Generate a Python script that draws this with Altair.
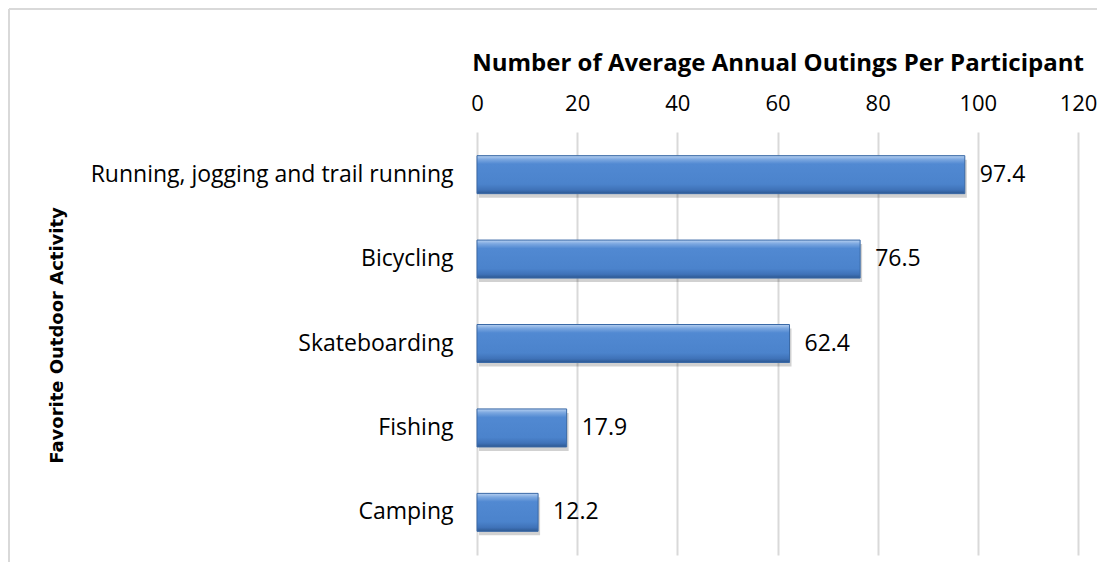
import altair as alt
import pandas as pd

categories = ["Running, jogging and trail running", "Bicycling", "Skateboarding", "Fishing", "Camping"]
values = [97.4, 76.5, 62.4, 17.9, 12.2]
x_ticks = [0, 20, 40, 60, 80, 100, 120]

df = pd.DataFrame({"activity": categories, "value": values})

FONT = "Open Sans"

x_enc = alt.X(
    "value:Q",
    scale=alt.Scale(domain=[0, 120], nice=False),
    axis=alt.Axis(
        orient="top", values=x_ticks,
        title="Number of Average Annual Outings Per Participant",
        titleFont=FONT, titleFontSize=24, titleFontWeight="bold", titleColor="black",
        labelFont=FONT, labelFontSize=22, labelColor="black",
        labelFlush=False, labelOverlap=False,
        ticks=False, tickSize=0, domain=False,
        grid=True, gridColor="#d9d9d9", gridWidth=2,
        labelPadding=17, titlePadding=17,
    ),
)
y_enc = alt.Y(
    "activity:N", sort=categories,
    scale=alt.Scale(paddingInner=0.55, paddingOuter=0.28),
    axis=alt.Axis(
        title="Favorite Outdoor Activity",
        titleFont="DejaVu Sans", titleFontSize=18, titleFontWeight="bold", titleColor="black",
        titleX=-411, titleY=203,
        labelFont=FONT, labelFontSize=23, labelColor="black", labelLimit=600,
        ticks=False, tickSize=0, domain=False, grid=False,
        labelPadding=24,
    ),
)

base = alt.Chart(df)

shadow = base.mark_bar(color="#000000", opacity=0.18, xOffset=2, yOffset=4).encode(
    x=x_enc, y=y_enc
)

grad = alt.Gradient(
    gradient="linear", x1=0, x2=0, y1=0, y2=1,
    stops=[
        alt.GradientStop(color="#b6d0f1", offset=0),
        alt.GradientStop(color="#7ba7e0", offset=0.1),
        alt.GradientStop(color="#5189d2", offset=0.22),
        alt.GradientStop(color="#4b83cc", offset=0.75),
        alt.GradientStop(color="#3f72b8", offset=0.9),
        alt.GradientStop(color="#2d5891", offset=1),
    ],
)
bars = base.mark_bar(color=grad, stroke="#3a69a6", strokeWidth=1).encode(
    x=x_enc, y=y_enc
)

labels = base.mark_text(
    align="left", baseline="middle", dx=15, font=FONT, fontSize=23, color="black"
).encode(
    x=alt.X("value:Q"), y=alt.Y("activity:N", sort=categories), text=alt.Text("value:Q", format=".1f")
)

frame = pd.DataFrame({"k": [0]})
left_border = alt.Chart(frame).mark_rule(color="#d9d9d9", strokeWidth=2).encode(
    x=alt.value(-468), y=alt.value(-123), y2=alt.value(430)
)
top_border = alt.Chart(frame).mark_rule(color="#d9d9d9", strokeWidth=2).encode(
    x=alt.value(-468), x2=alt.value(620), y=alt.value(-123)
)

chart = alt.layer(shadow, bars, labels, left_border, top_border).properties(
    width=601, height=423, padding=0
).configure_view(stroke=None)

chart.save("out.html", embed_options={"renderer": "svg", "actions": False})
